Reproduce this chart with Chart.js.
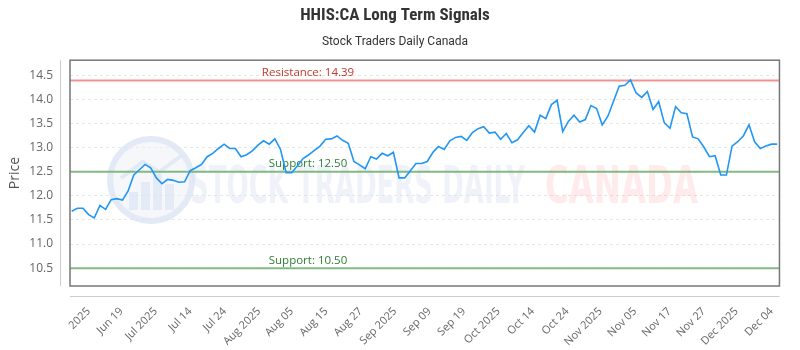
<!DOCTYPE html>
<html><head><meta charset="utf-8">
<script src="https://cdn.jsdelivr.net/npm/chart.js@4.4.1/dist/chart.umd.min.js"></script>
<style>html,body{margin:0;padding:0;background:#fff}#wrap{width:800px;height:350px;position:relative}</style>
</head><body><div id="wrap"><canvas id="c"></canvas></div>
<script>
const dates = [
 'Jun 09','Jun 10','Jun 11','Jun 12','Jun 13','Jun 16','Jun 17','Jun 18','Jun 19','Jun 20','Jun 23','Jun 24','Jun 25','Jun 26','Jun 27','Jun 30',
 'Jul 02','Jul 03','Jul 04','Jul 07','Jul 08','Jul 09','Jul 10','Jul 11','Jul 14','Jul 15','Jul 16','Jul 17','Jul 18','Jul 21','Jul 22','Jul 23','Jul 24','Jul 25','Jul 28','Jul 29','Jul 30','Jul 31',
 'Aug 01','Aug 05','Aug 06','Aug 07','Aug 08','Aug 11','Aug 12','Aug 13','Aug 14','Aug 15','Aug 18','Aug 19','Aug 20','Aug 21','Aug 22','Aug 25','Aug 26','Aug 27','Aug 28','Aug 29',
 'Sep 02','Sep 03','Sep 04','Sep 05','Sep 08','Sep 09','Sep 10','Sep 11','Sep 12','Sep 15','Sep 16','Sep 17','Sep 18','Sep 19','Sep 22','Sep 23','Sep 24','Sep 25','Sep 26','Sep 29','Sep 30',
 'Oct 01','Oct 02','Oct 03','Oct 06','Oct 07','Oct 08','Oct 09','Oct 10','Oct 14','Oct 15','Oct 16','Oct 17','Oct 20','Oct 21','Oct 22','Oct 23','Oct 24','Oct 27','Oct 28','Oct 29','Oct 30','Oct 31',
 'Nov 03','Nov 04','Nov 05','Nov 06','Nov 07','Nov 10','Nov 11','Nov 12','Nov 13','Nov 14','Nov 17','Nov 18','Nov 19','Nov 20','Nov 21','Nov 24','Nov 25','Nov 26','Nov 27','Nov 28',
 'Dec 01','Dec 02','Dec 03','Dec 04','Dec 05'
];
const prices = [
 11.68,11.74,11.74,11.61,11.54,11.80,11.72,11.92,11.94,11.91,
 12.10,12.43,12.54,12.65,12.58,12.37,12.25,12.34,12.32,12.28,
 12.29,12.52,12.58,12.65,12.81,12.88,12.98,13.07,12.98,12.98,
 12.81,12.85,12.93,13.05,13.14,13.07,13.18,12.96,12.48,12.48,
 12.62,12.77,12.85,12.94,13.03,13.17,13.18,13.24,13.15,13.09,
 12.71,12.64,12.56,12.81,12.76,12.88,12.83,12.90,12.37,12.37,
 12.52,12.67,12.67,12.71,12.90,13.02,12.96,13.14,13.21,13.23,
 13.15,13.31,13.39,13.43,13.30,13.32,13.17,13.29,13.10,13.16,
 13.31,13.45,13.32,13.67,13.60,13.89,13.98,13.33,13.54,13.67,
 13.53,13.58,13.87,13.81,13.47,13.65,13.96,14.27,14.29,14.40,
 14.13,14.04,14.16,13.79,13.95,13.51,13.40,13.85,13.72,13.70,
 13.22,13.18,13.01,12.81,12.83,12.43,12.43,13.03,13.12,13.24,
 13.47,13.12,12.98,13.03,13.07,13.07
];
const tickLabels = ['2025','Jun 19','Jul 2025','Jul 14','Jul 24','Aug 2025','Aug 05','Aug 15','Aug 27','Sep 2025','Sep 09','Sep 19','Oct 2025','Oct 14','Oct 24','Nov 2025','Nov 05','Nov 17','Nov 27','Dec 2025','Dec 04'];
const tickIdx = [3.0,8.8,14.9,21.0,27.1,33.2,39.0,45.1,51.2,57.3,63.4,69.5,75.6,81.7,87.8,93.7,99.8,105.9,112.0,117.8,124.0];
const levelValues = [14.39, 12.50, 10.50];
const levelNames = ['Resistance', 'Support', 'Support'];
const levelKinds = ['r', 's', 's'];

const FONT = "'Open Sans', 'DejaVu Sans', sans-serif";

const decor = {
  id: 'decor',
  beforeDatasetsDraw(chart) {
    const {ctx, chartArea: a, scales: {y}} = chart;
    ctx.save();
    // watermark
    ctx.beginPath(); ctx.rect(a.left, a.top, a.right - a.left, a.bottom - a.top); ctx.clip();
    const cx = 151, cy = 180, r = 44;
    ctx.fillStyle = 'rgba(235,240,248,0.5)';
    ctx.beginPath(); ctx.arc(cx, cy, r, 0, Math.PI * 2); ctx.fill();
    ctx.strokeStyle = 'rgba(215,225,242,0.6)'; ctx.lineWidth = 6;
    ctx.beginPath(); ctx.arc(cx, cy, r - 3, 0, Math.PI * 2); ctx.stroke();
    ctx.fillStyle = 'rgba(215,225,242,0.55)';
    [[-22, 10], [-10, 20], [2, 28], [14, 18]].forEach(([dx, h]) => ctx.fillRect(cx + dx, cy + 30 - h - 8, 9, h + 8));
    ctx.strokeStyle = 'rgba(215,225,242,0.6)'; ctx.lineWidth = 4;
    ctx.beginPath(); ctx.moveTo(cx - 30, cy - 2); ctx.lineTo(cx - 8, cy - 18); ctx.lineTo(cx + 8, cy - 8); ctx.lineTo(cx + 30, cy - 24); ctx.stroke();
    const drawFit = (txt, x0, x1, color) => {
      ctx.font = "bold 52px 'DejaVu Sans', sans-serif";
      const w = ctx.measureText(txt).width;
      ctx.save();
      ctx.translate(x0, 203);
      ctx.scale((x1 - x0) / w, 1);
      ctx.fillStyle = color; ctx.textBaseline = 'alphabetic'; ctx.textAlign = 'left';
      ctx.fillText(txt, 0, 0);
      ctx.restore();
    };
    drawFit('STOCK TRADERS DAILY', 190, 525, 'rgba(215,224,240,0.4)');
    drawFit('CANADA', 545, 698, 'rgba(255,175,175,0.25)');
    ctx.restore();

    // level lines
    ctx.save();
    levelValues.forEach((v, i) => {
      const py = y.getPixelForValue(v);
      const isR = levelKinds[i] === 'r';
      ctx.strokeStyle = isR ? 'rgba(235,120,120,0.8)' : 'rgba(110,175,110,0.85)';
      ctx.lineWidth = 2;
      ctx.beginPath(); ctx.moveTo(a.left, py); ctx.lineTo(a.right, py); ctx.stroke();
      ctx.font = "11.5px " + FONT;
      ctx.fillStyle = isR ? '#c0392b' : '#2e7d32';
      ctx.textAlign = 'center'; ctx.textBaseline = 'bottom';
      ctx.fillText(levelNames[i] + ': ' + v.toFixed(2), 308, py - 2);
    });
    ctx.restore();
  },
  afterDraw(chart) {
    const {ctx, chartArea: a} = chart;
    ctx.save();
    ctx.strokeStyle = '#cccccc'; ctx.lineWidth = 1;
    ctx.beginPath(); ctx.moveTo(60.5, a.top); ctx.lineTo(60.5, a.bottom); ctx.stroke();
    ctx.beginPath(); ctx.moveTo(a.left, 296.5); ctx.lineTo(a.right, 296.5); ctx.stroke();
    ctx.strokeStyle = '#777777'; ctx.lineWidth = 1.5;
    ctx.strokeRect(a.left, a.top, a.right - a.left, a.bottom - a.top);
    ctx.restore();
  }
};

new Chart(document.getElementById('c'), {
  type: 'line',
  plugins: [decor],
  data: {
    datasets: [{
      label: 'Price',
      data: prices.map((v, i) => ({x: i, y: v})),
      borderColor: '#2196F3',
      borderWidth: 1.6,
      pointRadius: 0,
      tension: 0,
      fill: false
    }]
  },
  options: {
    responsive: true,
    maintainAspectRatio: false,
    animation: false,
    devicePixelRatio: 1,
    layout: {padding: {left: 0, right: 10, top: 0, bottom: 0}},
    plugins: {
      legend: {display: false},
      tooltip: {enabled: false},
      title: {display: true, text: 'HHIS:CA Long Term Signals', color: '#333',
        font: {family: "'Liberation Sans Narrow', 'Roboto Condensed', Roboto, sans-serif", size: 17, weight: 'bold'},
        padding: {top: 6, bottom: 6}},
      subtitle: {display: true, text: 'Stock Traders Daily Canada', color: '#333',
        font: {family: "Roboto, sans-serif", size: 12}, padding: {top: 2, bottom: 11.4}}
    },
    scales: {
      x: {
        type: 'linear', min: -0.3, max: 125.4,
        afterFit(s) { s.height = 64; },
        afterBuildTicks(s) { s.ticks = tickIdx.map(v => ({value: v})); },
        grid: {display: false, drawTicks: false},
        border: {display: false},
        ticks: {autoSkip: false, maxRotation: 45, minRotation: 45, padding: 19,
          color: '#666', font: {family: FONT, size: 11},
          callback: (v, i) => tickLabels[i]}
      },
      y: {
        min: 10.13, max: 14.81,
        afterFit(s) { s.width = 70; },
        grid: {color: '#e6e6e6', drawTicks: false, lineWidth: 1},
        border: {display: false, dash: [3, 3]},
        ticks: {stepSize: 0.5, includeBounds: false, padding: 17, color: '#666',
          font: {family: FONT, size: 12}, callback: v => v.toFixed(1)},
        title: {display: true, text: 'Price', color: '#555', font: {family: FONT, size: 14}, padding: {top: 7, bottom: 0}}
      }
    }
  }
});
</script>
</body></html>
